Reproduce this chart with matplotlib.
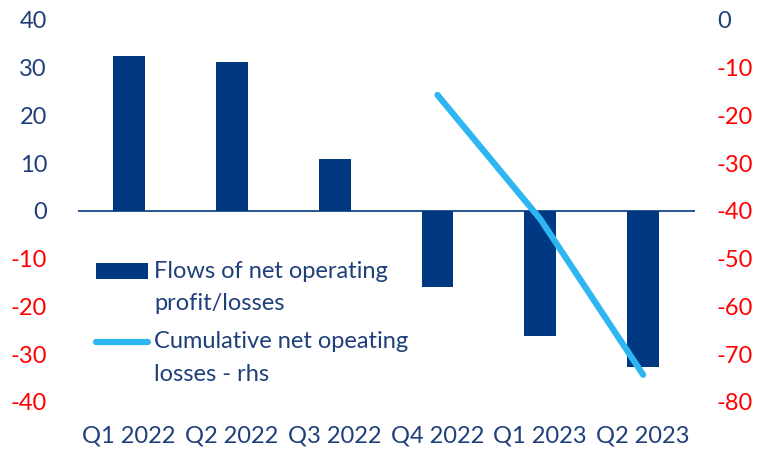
import numpy as np
import matplotlib.pyplot as plt
from matplotlib.legend_handler import HandlerBase, HandlerPatch, HandlerLine2D

# Quarterly flows (lhs) and cumulative losses (rhs)
quarters = ["Q1 2022", "Q2 2022", "Q3 2022", "Q4 2022", "Q1 2023", "Q2 2023"]
flows = [32.5, 31.2, 10.9, -16.0, -26.2, -32.6]
cum_quarters = ["Q4 2022", "Q1 2023", "Q2 2023"]
cumulative = [-15.7, -41.7, -74.3]

navy = "#003882"
text_blue = "#1F3F7A"
light_blue = "#2EB6F2"
red = "#FF0000"

plt.rcParams['font.family'] = ['Lato', 'DejaVu Sans']
plt.rcParams['axes.unicode_minus'] = False

FS = 17
LINESP = 1.68


class FirstLineHandler(HandlerBase):
    """Puts the legend key next to the first line of a two-line label."""
    def __init__(self, base, shift):
        super().__init__()
        self.base = base
        self.shift = shift

    def create_artists(self, legend, orig_handle, xdescent, ydescent,
                       width, height, fontsize, trans):
        return self.base.create_artists(legend, orig_handle, xdescent,
                                        ydescent - self.shift, width, height,
                                        fontsize, trans)


fig = plt.figure(figsize=(7.57, 4.5), dpi=100)
ax = fig.add_axes([0.1025, 0.1067, 0.815, 0.8489])
x = np.arange(len(quarters))
bars = ax.bar(x, flows, width=0.31, color=navy, zorder=2)
ax.axhline(0, color=navy, lw=1.2, zorder=1)
ax.set_xlim(-0.5, len(quarters) - 0.5)
ax.set_ylim(-40, 40)
ax.set_yticks(np.arange(-40, 41, 10))
ax.set_xticks(x)
ax.set_xticklabels(quarters)

ax2 = ax.twinx()
cx = [quarters.index(q) for q in cum_quarters]
line, = ax2.plot(cx, cumulative, color=light_blue, lw=4.5, solid_capstyle='round',
                 zorder=3)
ax2.set_ylim(-80, 0)
ax2.set_yticks(np.arange(-80, 1, 10))

for a in (ax, ax2):
    for s in a.spines.values():
        s.set_visible(False)
    a.tick_params(length=0, labelsize=FS, colors=text_blue)

ax.tick_params(axis='y', pad=22)
ax.tick_params(axis='x', pad=17)
ax2.tick_params(axis='y', pad=16)

# negative values in red on both axes
for lab, v in zip(ax.get_yticklabels(), ax.get_yticks()):
    lab.set_color(red if v < 0 else text_blue)
for lab, v in zip(ax2.get_yticklabels(), ax2.get_yticks()):
    lab.set_color(red if v < 0 else text_blue)

bar_key = bars.patches[0]
shift = FS * LINESP * 0.42
leg = ax.legend([bar_key, line],
                ["Flows of net operating\nprofit/losses",
                 "Cumulative net opeating\nlosses - rhs"],
                loc='upper left', bbox_to_anchor=(0.03, 0.37), frameon=False,
                fontsize=FS, handlelength=2.2, handleheight=0.64,
                handletextpad=0.25, labelspacing=0.72, borderpad=0,
                borderaxespad=0,
                handler_map={bar_key: FirstLineHandler(HandlerPatch(), shift),
                             line: FirstLineHandler(HandlerLine2D(), shift + 11)})
for t in leg.get_texts():
    t.set_color(text_blue)
    t.set_linespacing(LINESP)
for h in leg.legend_handles:
    if hasattr(h, 'set_solid_capstyle'):
        h.set_solid_capstyle('round')

fig.savefig("out.png", dpi=100)
